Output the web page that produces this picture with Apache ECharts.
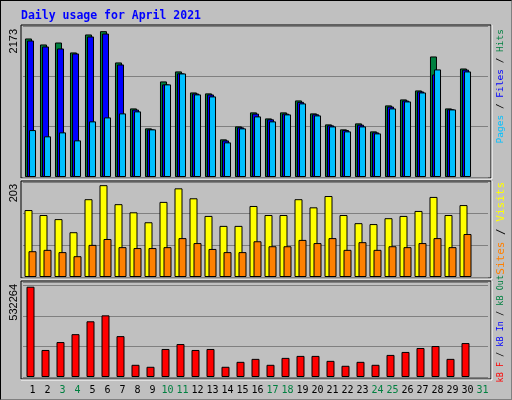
<!DOCTYPE html>
<html>
<head>
<meta charset="utf-8">
<script src="https://cdn.jsdelivr.net/npm/echarts@6/dist/echarts.min.js"></script>
<style>
  html, body { margin: 0; padding: 0; background: #c0c0c0; }
  #chart { width: 512px; height: 400px; box-sizing: border-box; border: 1px solid #000; border-right-color: #808080; border-bottom-color: #808080; }
</style>
</head>
<body>
<div id="chart"></div>
<script>
const days = ['1','2','3','4','5','6','7','8','9','10','11','12','13','14','15','16','17','18','19','20','21','22','23','24','25','26','27','28','29','30','31'];
const weekend = ['3','4','10','11','17','18','24','25','31'];

const hits = [2064,1975,2004,1856,2124,2173,1707,1022,725,1424,1573,1260,1246,561,754,963,873,963,1141,948,784,710,799,680,1067,1156,1290,1796,1022,1617,null];
const files = [2034,1945,1915,1841,2094,2138,1677,1005,710,1380,1545,1245,1230,545,740,945,860,945,1120,935,770,700,780,665,1050,1140,1275,1528,1010,1600,null];
const pages = [699,606,665,546,829,888,948,978,710,1380,1543,1231,1201,516,725,903,829,933,1097,918,754,680,754,650,1022,1126,1260,1603,1007,1573,null];

const visits = [148,137,128,99,172,203,161,143,121,166,196,174,135,113,113,157,137,137,172,154,179,137,119,117,130,135,146,177,137,159,null];
const sites = [57,60,55,46,71,84,66,64,64,66,86,75,62,55,55,79,68,68,82,75,86,60,77,60,68,66,75,86,66,95,null];

const kbytes = [532264,159300,206000,252600,328400,363400,241000,71900,60200,165200,194300,159300,165200,60200,89400,106900,71900,112700,124400,124400,95200,66100,89400,71900,130200,147700,171000,182600,106900,200100,null];

const mono = '"DejaVu Sans Mono", monospace';
const chart = echarts.init(document.getElementById('chart'));

const grids = [
  { left: 22, width: 465, top: 25, height: 151 },
  { left: 22, width: 465, top: 181, height: 95 },
  { left: 22, width: 465, top: 281, height: 95 },
];

function xAxis(i, showLabels) {
  return {
    type: 'category', gridIndex: i, data: days,
    axisLine: { show: false }, axisTick: { show: false },
    axisLabel: showLabels ? {
      show: true, interval: 0, margin: 8, padding: [0, 0, 0, 4],
      fontFamily: mono, fontSize: 10,
      color: (v) => weekend.includes(v) ? '#008040' : '#000',
    } : { show: false },
  };
}

function yAxis(i, max, interval) {
  return {
    type: 'value', gridIndex: i, min: 0, max, interval,
    axisLine: { show: false }, axisTick: { show: false }, axisLabel: { show: false },
    splitLine: { lineStyle: { color: '#808080', width: 1 } },
  };
}

function bars(name, data, color, axis, width, gap) {
  const s = {
    name, type: 'bar', data, xAxisIndex: axis, yAxisIndex: axis,
    barWidth: width, itemStyle: { color, borderColor: '#000', borderWidth: 1 },
    animation: false, silent: true,
  };
  if (gap) s.barGap = gap;
  return s;
}

function panelBox(top, h) {
  return [
    { type: 'rect', shape: { x: 20, y: top, width: 470, height: h }, style: { fill: 'none', stroke: '#000', lineWidth: 1 } },
    { type: 'line', shape: { x1: 491, y1: top, x2: 491, y2: top + h + 1 }, style: { stroke: '#fff', lineWidth: 1 } },
    { type: 'line', shape: { x1: 20, y1: top + h + 1, x2: 491, y2: top + h + 1 }, style: { stroke: '#fff', lineWidth: 1 } },
  ];
}

function leftLabel(text, y) {
  return { type: 'text', x: 13, y, rotation: Math.PI / 2,
    style: { text, fontFamily: '"Liberation Sans", sans-serif', fontSize: 11, fill: '#000', align: 'right', verticalAlign: 'middle' } };
}

function rightLabel(parts, y, size) {
  const rich = {};
  let text = '';
  parts.forEach(([t, c], k) => { rich['p' + k] = { fill: c, fontFamily: mono, fontSize: size }; text += '{p' + k + '|' + t + '}'; });
  return { type: 'text', x: 500, y, rotation: Math.PI / 2,
    style: { text, rich, align: 'right', verticalAlign: 'middle', fontFamily: mono, fontSize: size } };
}

chart.setOption({
  backgroundColor: '#c0c0c0',
  animation: false,
  grid: grids,
  xAxis: [xAxis(0, false), xAxis(1, false), xAxis(2, true)],
  yAxis: [yAxis(0, 2250, 750), yAxis(1, 210, 70), yAxis(2, 560000, 180000)],
  series: [
    bars('Hits', hits, '#008040', 0, 7, '-71%'),
    bars('Files', files, '#0000ff', 0, 7, '-71%'),
    bars('Pages', pages, '#00c0ff', 0, 7, '-71%'),
    bars('Visits', visits, '#ffff00', 1, 8, '-50%'),
    bars('Sites', sites, '#ff8000', 1, 8, '-50%'),
    bars('kB F', kbytes, '#ff0000', 2, 8),
  ],
  graphic: [
    { type: 'text', x: 20, y: 15, style: { text: 'Daily usage for April 2021', fontFamily: mono, fontSize: 11.5, fontWeight: 'bold', fill: '#0000ff', verticalAlign: 'middle' } },
    ...panelBox(24, 153),
    ...panelBox(180, 97),
    ...panelBox(280, 98),
    leftLabel('2173', 28),
    leftLabel('203', 183),
    leftLabel('532264', 283),
    rightLabel([['Pages', '#00c0ff'], [' / ', '#000'], ['Files', '#0000ff'], [' / ', '#000'], ['Hits', '#008040']], 28, 9.5),
    rightLabel([['Sites', '#ff8000'], [' / ', '#000'], ['Visits', '#ffff00']], 181, 11),
    rightLabel([['kB F', '#ff0000'], [' / ', '#000'], ['kB In', '#0000ff'], [' / ', '#000'], ['kB Out', '#008040']], 274, 8.5),
  ],
});
</script>
</body>
</html>
